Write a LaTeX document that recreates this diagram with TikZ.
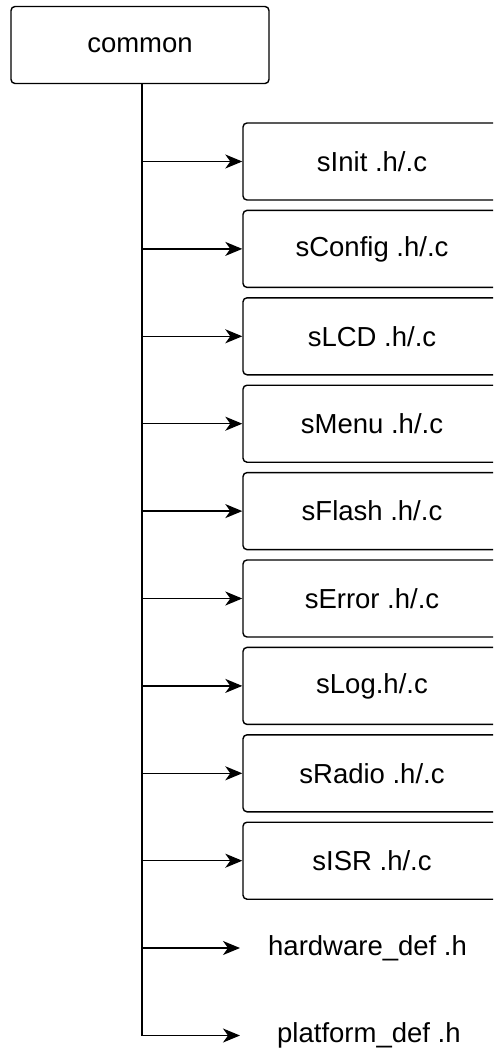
\documentclass[tikz,border=0pt]{standalone}
\usepackage{fontspec}
\setmainfont{Liberation Sans}
\usetikzlibrary{arrows.meta}
\begin{document}
\begin{tikzpicture}[x=1pt,y=-1pt,
  box/.style={draw, line width=1.4pt, rounded corners=4pt, minimum width=258pt, minimum height=77pt, inner sep=0pt, font=\fontsize{27.5}{30}\selectfont},
  lbl/.style={inner sep=0pt, font=\fontsize{27.5}{30}\selectfont},
  link/.style={line width=1.4pt, -{Stealth[length=17pt,width=14pt,inset=5pt]}},
  trunk/.style={line width=1.4pt}]
\useasboundingbox (0,0) rectangle (493,1051);
\clip (0,0) rectangle (493,1051);
\node[box] (common) at (140,45) {common};
\coordinate (t0) at (142,83);
\foreach \i/\t in {0/{sInit .h/.c},1/{sConfig .h/.c},2/{sLCD .h/.c},3/{sMenu .h/.c},4/{sFlash .h/.c},5/{sError .h/.c},6/{sLog.h/.c},7/{sRadio .h/.c},8/{sISR .h/.c}}{
  \node[box] (b\i) at (372,{161.5+87.4*\i}) {\t};
  \coordinate (j\i) at (142,{161.5+87.4*\i});
  \draw[link] (j\i) -- (b\i.west);
}
\node[lbl, anchor=west] (hw) at (268,948) {hardware\_def .h};
\node[lbl, anchor=west] (pf) at (277,1035.5) {platform\_def .h};
\coordinate (jh) at (142,948);
\coordinate (jp) at (142,1035.5);
\draw[trunk] (common.south -| t0) -- (jp);
\draw[link] (jh) -- ([xshift=-28pt]hw.west);
\draw[link] (jp) -- ([xshift=-37pt]pf.west);
\end{tikzpicture}
\end{document}
